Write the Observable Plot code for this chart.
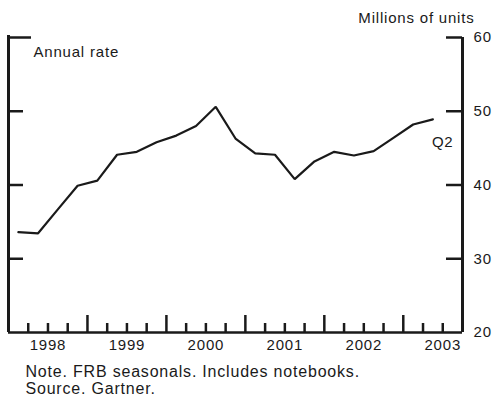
<!DOCTYPE html>
<html><head><meta charset="utf-8">
<script src="https://cdn.jsdelivr.net/npm/d3@7"></script>
<script src="https://cdn.jsdelivr.net/npm/@observablehq/plot@0.6"></script>
<style>
  body { margin: 0; background: #fff; }
  #chart svg text { letter-spacing: 0.8px; }
</style>
</head><body><div id="chart"></div>
<script>
// Data: PC shipments, millions of units, annual rate, quarterly
const years = [1998, 1999, 2000, 2001, 2002, 2003];
const quarters = [
  [1998,1],[1998,2],[1998,3],[1998,4],
  [1999,1],[1999,2],[1999,3],[1999,4],
  [2000,1],[2000,2],[2000,3],[2000,4],
  [2001,1],[2001,2],[2001,3],[2001,4],
  [2002,1],[2002,2],[2002,3],[2002,4],
  [2003,1],[2003,2]
];
const units = [
  33.6, 33.45, 36.7, 39.9,
  40.6, 44.1, 44.5, 45.8,
  46.7, 48.0, 50.6, 46.3,
  44.3, 44.1, 40.8, 43.2,
  44.5, 44.0, 44.6, 46.4,
  48.2, 48.9
];
const yTicks = [20, 30, 40, 50, 60];
const xStart = 1998, xEnd = 2003.75; // through 2003 Q3
const titleText = "Millions of units";
const rateText = "Annual rate";
const lastLabel = "Q2";
const notes = ["Note. FRB seasonals. Includes notebooks.", "Source. Gartner."];

const data = quarters.map(([yr, q], i) => ({x: yr + (q - 0.5) / 4, v: units[i]}));
const majorX = years.filter(y => y > xStart);
const minorX = [];
for (let yr = 1998; yr <= 2003; yr++) for (let q = 1; q < 4; q++) {
  const t = yr + q / 4;
  if (t < xEnd) minorX.push(t);
}
const ink = "#1a1a1a";

const chart = Plot.plot({
  width: 494, height: 400,
  marginTop: 37, marginBottom: 68, marginLeft: 8, marginRight: 32,
  x: {domain: [xStart, xEnd], axis: null},
  y: {domain: [20, 60], axis: null},
  style: {fontFamily: "'Liberation Sans', Arial, Helvetica, sans-serif", fontSize: "15px", color: ink, background: "#fff"},
  marks: [
    Plot.ruleY([20], {stroke: ink, strokeWidth: 2.5}),
    Plot.ruleX([xEnd], {stroke: ink, strokeWidth: 3}),
    Plot.ruleX([xStart], {stroke: ink, strokeWidth: 3, insetTop: -2}),
    Plot.ruleX(majorX, {stroke: ink, strokeWidth: 2.5, insetTop: 278}),
    Plot.ruleX(minorX, {stroke: ink, strokeWidth: 2.5, insetTop: 286}),
    Plot.ruleY(yTicks.filter(v => v > 20), {stroke: ink, strokeWidth: 2.5, insetLeft: 438}),
    Plot.ruleY(yTicks.filter(v => v > 20 && v < 60), {stroke: ink, strokeWidth: 2.5, insetRight: 439}),
    Plot.ruleY([60], {stroke: ink, strokeWidth: 2.5, insetRight: 431}),
    Plot.line(data, {x: "x", y: "v", stroke: ink, strokeWidth: 2.2, strokeLinejoin: "miter"}),
    Plot.text(yTicks, {x: xEnd, y: d => d, text: d => String(d), dx: 11, textAnchor: "start", fill: ink}),
    Plot.text(years, {x: d => d + 0.5, y: 20, text: d => String(d), lineAnchor: "top", dy: 6.5, fill: ink}),
    Plot.text([titleText], {frameAnchor: "top-right", text: d => d, textAnchor: "end", lineAnchor: "bottom", dx: 12, dy: -15, fill: ink}),
    Plot.text([rateText], {frameAnchor: "top-left", text: d => d, textAnchor: "start", lineAnchor: "bottom", dx: 25, dy: 19.5, fill: ink}),
    Plot.text([data[data.length - 1]], {x: "x", y: "v", text: () => lastLabel, textAnchor: "start", lineAnchor: "bottom", dx: -1, dy: 27.5, fill: ink}),
    Plot.text([notes[0]], {frameAnchor: "bottom-left", text: d => d, textAnchor: "start", lineAnchor: "bottom", dx: 17, dy: 44, fontSize: 16, fill: ink}),
    Plot.text([notes[1]], {frameAnchor: "bottom-left", text: d => d, textAnchor: "start", lineAnchor: "bottom", dx: 17, dy: 61, fontSize: 16, fill: ink})
  ]
});
document.getElementById("chart").append(chart);
</script>
</body></html>
